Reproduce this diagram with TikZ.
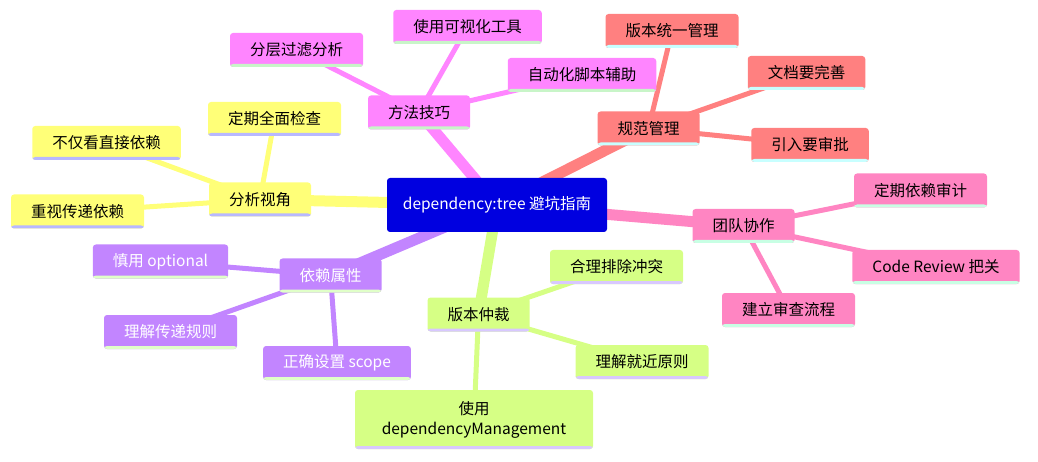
\documentclass[tikz,border=0pt]{standalone}
\usepackage{fontspec}
\setmainfont{Noto Sans CJK SC}
\usetikzlibrary{backgrounds}

\definecolor{rootblue}{HTML}{0000E0}
\definecolor{viewyel}{HTML}{FFFF78}
\definecolor{viewbar}{HTML}{B8B8FF}
\definecolor{tipmag}{HTML}{FF85FF}
\definecolor{tipbar}{HTML}{C8F5C8}
\definecolor{rulered}{HTML}{FF8080}
\definecolor{rulebar}{HTML}{C8FFFF}
\definecolor{teampink}{HTML}{FF85C2}
\definecolor{teambar}{HTML}{C8FFE4}
\definecolor{propviol}{HTML}{C285FF}
\definecolor{propbar}{HTML}{E0FFC8}
\definecolor{verlime}{HTML}{D6FF85}
\definecolor{verbar}{HTML}{D8C8FF}

\begin{document}
\begin{tikzpicture}[x=1pt,y=-1pt,
    every node/.style={font=\fontsize{15.5}{20}\selectfont},
    box/.style n args={3}{rounded corners=3pt, inner xsep=20pt, inner ysep=0pt,
        minimum height=34pt, fill=#1, text=#3,
        path picture={\fill[#2] (path picture bounding box.south west)
            rectangle ([yshift=3pt]path picture bounding box.south east);}},
    rootbox/.style={rounded corners=3pt, fill=rootblue, text=white,
        minimum width=220pt, minimum height=54pt},
    trunk/.style={line width=11pt, draw=#1},
    twig/.style={line width=5pt, draw=#1}]

    \useasboundingbox (0,0) rectangle (1038,462);

    % the root in the middle
    \node[rootbox] (root) at (497,205) {dependency:tree 避坑指南};

    % analysis view, to the left
    \node[box={viewyel}{viewbar}{black}] (view) at (260,199.5) {分析视角};
    \foreach \n/\x/\y/\t in {
        view1/274.5/119/定期全面检查,
        view2/106.5/143/不仅看直接依赖,
        view3/77.5/211.5/重视传递依赖}
            \node[box={viewyel}{viewbar}{black}] (\n) at (\x,\y) {\t};

    % methods and tips, top left
    \node[box={tipmag}{tipbar}{black}] (tips) at (419,112.5) {方法技巧};
    \foreach \n/\x/\y/\t in {
        tips1/296.5/50/分层过滤分析,
        tips2/467.5/27/使用可视化工具,
        tips3/582/75/自动化脚本辅助}
            \node[box={tipmag}{tipbar}{black}] (\n) at (\x,\y) {\t};

    % rules, top right
    \node[box={rulered}{rulebar}{black}] (rule) at (648.5,128.5) {规范管理};
    \foreach \n/\x/\y/\t in {
        rule1/672/31/版本统一管理,
        rule2/806.5/73/文档要完善,
        rule3/810/145/引入要审批}
            \node[box={rulered}{rulebar}{black}] (\n) at (\x,\y) {\t};

    % team work, to the right
    \node[box={teampink}{teambar}{black}] (team) at (743.5,226) {团队协作};
    \foreach \n/\x/\y/\t in {
        team1/920.5/190.5/定期依赖审计,
        team2/936/267/Code Review 把关,
        team3/788.5/310/建立审查流程}
            \node[box={teampink}{teambar}{black}] (\n) at (\x,\y) {\t};

    % dependency properties, bottom left
    \node[box={propviol}{propbar}{white}] (prop) at (330.5,275.5) {依赖属性};
    \foreach \n/\x/\y/\t in {
        prop1/160.5/261.5/慎用 optional,
        prop2/170.5/332/理解传递规则,
        prop3/337/363/正确设置 scope}
            \node[box={propviol}{propbar}{white}] (\n) at (\x,\y) {\t};

    % version mediation, bottom
    \node[box={verlime}{verbar}{black}] (ver) at (478.5,314.5) {版本仲裁};
    \foreach \n/\x/\y/\t in {
        ver1/616.5/267/合理排除冲突,
        ver2/642/362/理解就近原则}
            \node[box={verlime}{verbar}{black}] (\n) at (\x,\y) {\t};
    \node[box={verlime}{verbar}{black}, minimum height=59pt,
          minimum width=238pt, align=center]
        (ver3) at (474,419.5) {使用\\dependencyManagement};

    % the connectors go behind the boxes
    \begin{scope}[on background layer]
        \foreach \b/\c in {view/viewyel,tips/tipmag,rule/rulered,
                           team/teampink,prop/propviol,ver/verlime}
            \draw[trunk=\c] (root.center) -- (\b.center);
        \foreach \b/\c in {view/viewyel,tips/tipmag,rule/rulered,
                           team/teampink,prop/propviol}
            \foreach \i in {1,2,3}
                \draw[twig=\c] (\b.center) -- (\b\i.center);
        \foreach \i in {1,2,3}
            \draw[twig=verlime] (ver.center) -- (ver\i.center);
    \end{scope}
\end{tikzpicture}
\end{document}
